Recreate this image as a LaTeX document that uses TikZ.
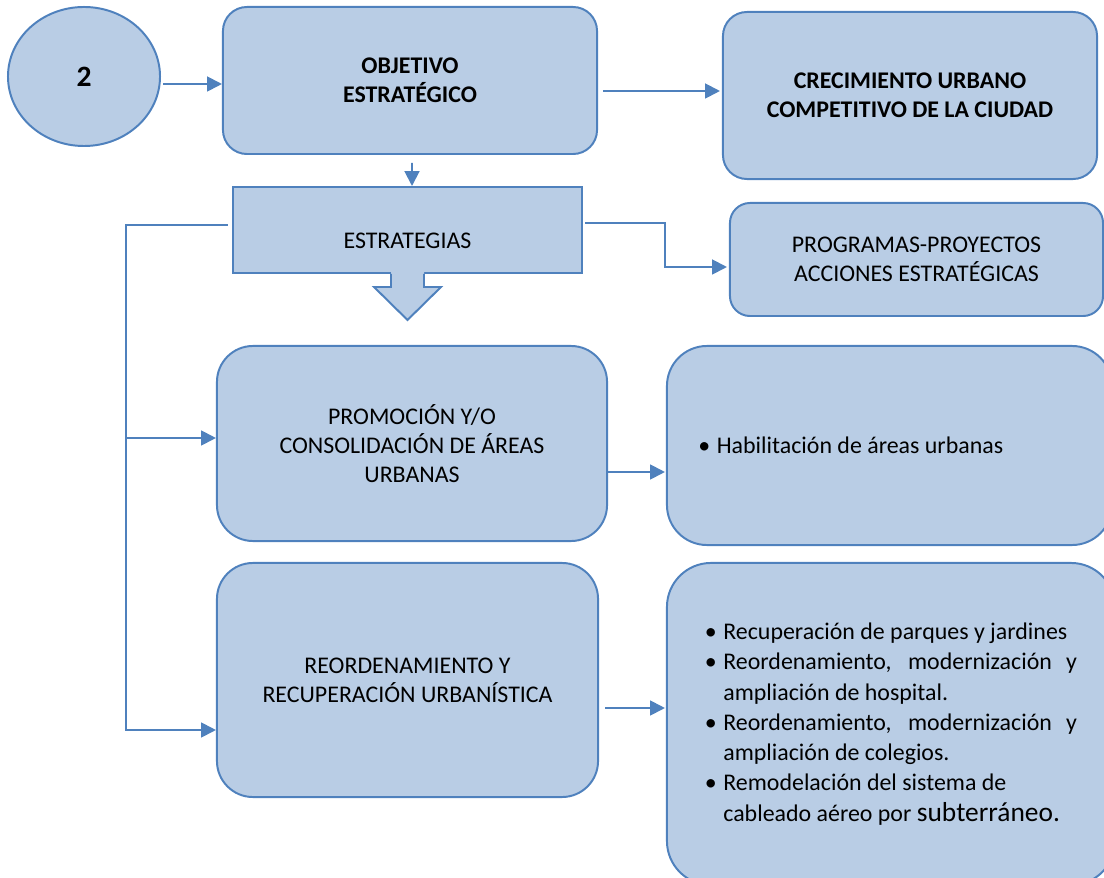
\documentclass[tikz,border=0pt]{standalone}
\usepackage{fontspec}
\setmainfont{Carlito}
\usetikzlibrary{shapes.geometric, arrows.meta, calc}

\definecolor{boxfill}{HTML}{B9CDE5}
\definecolor{boxline}{HTML}{4F81BD}

\newcommand{\bitem}[1]{\noindent\hangindent=0.46cm\hangafter=1\makebox[0.46cm][l]{\textbullet}#1\par}

\begin{document}
\begin{tikzpicture}[
    x=0.025cm, y=-0.025cm,
    base/.style={draw=boxline, line width=1.4pt, fill=boxfill, align=center, font=\fontsize{17}{20.5}\selectfont},
    box/.style={base, rectangle, rounded corners=#1},
    box/.default=0.6cm,
    boldtext/.style={font=\bfseries\fontsize{17}{20.5}\selectfont},
    listtext/.style={font=\fontsize{17}{21.5}\selectfont},
    flow/.style={draw=boxline, line width=1.4pt, -{Triangle[length=10.5pt, width=10.5pt]}},
    wire/.style={draw=boxline, line width=1.4pt}
]
    \useasboundingbox (0,0) rectangle (1104,878);
    \clip (0,0) rectangle (1104,878);

    % Objective row
    \node[base, ellipse, minimum width=3.8cm, minimum height=3.475cm, font=\bfseries\fontsize{21}{25}\selectfont] (num) at (84,76.5) {2};
    \node[box, boldtext, minimum width=9.35cm, minimum height=3.675cm] (objetivo) at (410,80.5) {OBJETIVO\\ESTRATÉGICO};
    \node[box, boldtext, minimum width=9.35cm, minimum height=4.175cm] (crecimiento) at (910,95.5) {CRECIMIENTO URBANO\\COMPETITIVO DE LA CIUDAD};

    % Strategies
    \node[base, rectangle, minimum width=8.725cm, minimum height=2.15cm, text height=26.6pt, text depth=0pt] (estrategias) at (407.5,230) {ESTRATEGIAS};
    \node[box=0.5cm, minimum width=9.325cm, minimum height=2.825cm] (programas) at (916.5,259.5) {PROGRAMAS-PROYECTOS\\ACCIONES ESTRATÉGICAS};

    % Block arrow below the strategies
    \fill[boxfill] (estrategias.south) ++(-16.5,-2) -- ++(0,15) -- ++(-17,0) -- ++(33.5,33) -- ++(33.5,-33) -- ++(-17,0) -- ++(0,-15) -- cycle;
    \draw[wire, line join=miter] (estrategias.south) ++(-16.5,0) -- ++(0,13) -- ++(-17,0) -- ++(33.5,33) -- ++(33.5,-33) -- ++(-17,0) -- ++(0,-13);

    % Strategy boxes
    \node[box=0.9cm, minimum width=9.75cm, minimum height=4.875cm] (promocion) at (412,443.5) {PROMOCIÓN Y/O\\CONSOLIDACIÓN DE ÁREAS\\URBANAS};
    \node[box=0.9cm, minimum width=9.525cm, minimum height=5.85cm] (reorden) at (407.5,680) {REORDENAMIENTO Y\\RECUPERACIÓN URBANÍSTICA};

    % Action lists
    \node[box=1cm, listtext, minimum width=11.125cm, minimum height=4.975cm, text width=9.55cm, inner xsep=0.775cm, align=flush left] (habil) at (889.5,445.5) {\bitem{Habilitación de áreas urbanas}};
    \node[box=1.1cm, listtext, minimum width=11.2cm, minimum height=8.05cm, text width=9.3cm, inner xsep=0.95cm, align=justify] (lista) at (891,724) {\tolerance=9999
        \bitem{Recuperación de parques y jardines}
        \bitem{Reordenamiento, modernización y ampliación de hospital.}
        \bitem{Reordenamiento, modernización y ampliación de colegios.}
        \bitem{Remodelación del sistema de\newline cableado aéreo por {\fontsize{19.5}{22.5}\selectfont subterráneo.}}
        \vspace{0.2cm}};

    % Connectors
    \draw[flow] ($(num.east)+(2,7.5)$) -- ($(objetivo.west)+(0,3.5)$);
    \draw[flow] ($(objetivo.east)+(5,10.5)$) -- ($(crecimiento.west)+(-2,-4.5)$);
    \draw[flow] ($(objetivo.south)+(2,8)$) -- ($(estrategias.north)+(4.5,0)$);
    \draw[flow] ($(estrategias.east)+(2,-7)$) -- ++(80,0) |- ($(programas.west)+(-2,7.5)$);

    % Left bus
    \coordinate (bus) at ($(estrategias.west)+(-106,-5)$);
    \draw[flow] ($(estrategias.west)+(-4,-5)$) -- (bus) |- ($(reorden.west)+(0,50)$);
    \draw[flow] (bus) |- ($(promocion.west)+(0,-5.5)$);

    \draw[flow] ($(promocion.east)+(0,28.5)$) -- ($(habil.west)+(-1,26.5)$);
    \draw[flow] ($(reorden.east)+(6,28)$) -- ($(lista.west)+(-1,-16)$);

\end{tikzpicture}
\end{document}
